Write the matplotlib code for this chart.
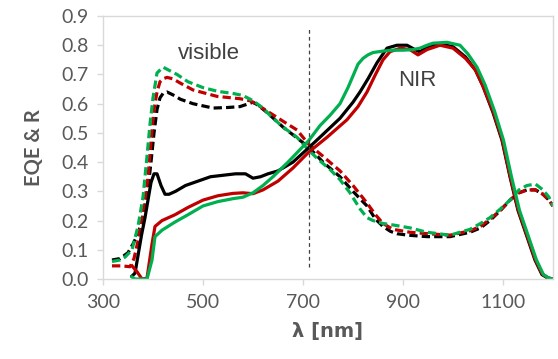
import numpy as np
import matplotlib
matplotlib.use('Agg')
import matplotlib.pyplot as plt

### data ###
# EQE (solid)
wl_eqe_k = [358, 364, 370, 377, 384, 390, 396, 402, 408, 416, 424, 432, 445, 465, 490, 515, 540, 565, 585, 600, 615, 630, 650, 680, 712, 740, 774, 800, 814, 830, 848, 868, 888, 908, 924, 934, 948, 974, 1000, 1025, 1045, 1060, 1080, 1098, 1114, 1130, 1148, 1164, 1178, 1190, 1200]
eqe_k = [0.01, 0.02, 0.08, 0.15, 0.21, 0.27, 0.33, 0.36, 0.36, 0.32, 0.29, 0.29, 0.30, 0.32, 0.335, 0.35, 0.355, 0.36, 0.36, 0.345, 0.35, 0.36, 0.37, 0.40, 0.45, 0.495, 0.55, 0.605, 0.64, 0.685, 0.74, 0.79, 0.80, 0.80, 0.785, 0.777, 0.795, 0.805, 0.795, 0.76, 0.715, 0.66, 0.57, 0.475, 0.35, 0.235, 0.145, 0.065, 0.015, 0.003, 0.0]

wl_eqe_r = [358, 368, 378, 388, 398, 404, 418, 444, 470, 500, 530, 560, 580, 600, 620, 650, 680, 712, 748, 788, 810, 828, 845, 860, 874, 895, 914, 930, 948, 974, 1000, 1025, 1045, 1060, 1080, 1098, 1114, 1130, 1148, 1164, 1178, 1190, 1200]
eqe_r = [0.045, 0.025, 0.0, 0.003, 0.12, 0.18, 0.2, 0.22, 0.245, 0.27, 0.285, 0.293, 0.295, 0.292, 0.305, 0.335, 0.38, 0.435, 0.485, 0.545, 0.59, 0.64, 0.70, 0.75, 0.778, 0.79, 0.785, 0.767, 0.785, 0.80, 0.79, 0.755, 0.715, 0.66, 0.575, 0.48, 0.355, 0.24, 0.15, 0.07, 0.018, 0.004, 0.0]

wl_eqe_g = [358, 364, 376, 388, 398, 404, 418, 444, 470, 500, 530, 560, 580, 600, 620, 640, 670, 712, 734, 754, 774, 790, 800, 810, 820, 830, 840, 860, 880, 900, 920, 934, 948, 960, 988, 1014, 1030, 1048, 1064, 1083, 1101, 1117, 1133, 1151, 1167, 1181, 1192, 1200]
eqe_g = [0.007, 0.0, 0.0, 0.0, 0.065, 0.145, 0.167, 0.195, 0.22, 0.25, 0.265, 0.275, 0.28, 0.295, 0.32, 0.35, 0.40, 0.475, 0.525, 0.56, 0.60, 0.655, 0.695, 0.735, 0.755, 0.767, 0.775, 0.78, 0.783, 0.783, 0.785, 0.79, 0.80, 0.807, 0.81, 0.80, 0.77, 0.725, 0.665, 0.575, 0.475, 0.35, 0.235, 0.145, 0.065, 0.015, 0.003, 0.0]

# reflectance (dashed)
wl_r_k = [318, 334, 350, 360, 370, 378, 384, 390, 396, 402, 408, 414, 420, 428, 440, 455, 480, 520, 550, 574, 600, 610, 628, 660, 690, 712, 740, 774, 800, 828, 845, 860, 875, 888, 910, 948, 994, 1034, 1055, 1074, 1095, 1114, 1132, 1148, 1165, 1180, 1192, 1200]
r_k = [0.065, 0.07, 0.09, 0.12, 0.155, 0.2, 0.25, 0.31, 0.40, 0.50, 0.58, 0.62, 0.635, 0.64, 0.63, 0.615, 0.60, 0.585, 0.587, 0.59, 0.605, 0.595, 0.57, 0.52, 0.48, 0.45, 0.40, 0.35, 0.30, 0.25, 0.205, 0.18, 0.163, 0.155, 0.15, 0.145, 0.145, 0.16, 0.175, 0.2, 0.235, 0.27, 0.295, 0.305, 0.305, 0.29, 0.27, 0.25]

wl_r_r = [318, 338, 354, 362, 370, 378, 384, 390, 396, 402, 408, 414, 420, 428, 440, 455, 480, 528, 574, 594, 610, 628, 660, 688, 712, 740, 774, 800, 828, 845, 860, 880, 914, 950, 994, 1034, 1055, 1074, 1095, 1114, 1132, 1148, 1165, 1180, 1192, 1200]
r_r = [0.045, 0.045, 0.042, 0.07, 0.13, 0.2, 0.27, 0.35, 0.47, 0.58, 0.64, 0.675, 0.685, 0.69, 0.685, 0.67, 0.647, 0.625, 0.617, 0.61, 0.595, 0.575, 0.54, 0.51, 0.46, 0.42, 0.37, 0.32, 0.26, 0.22, 0.19, 0.17, 0.16, 0.155, 0.15, 0.165, 0.18, 0.205, 0.235, 0.27, 0.295, 0.305, 0.305, 0.29, 0.27, 0.25]

wl_r_g = [318, 334, 344, 358, 370, 380, 388, 394, 400, 408, 420, 448, 470, 500, 530, 560, 580, 600, 620, 634, 660, 688, 712, 730, 754, 774, 794, 814, 828, 840, 860, 880, 914, 948, 994, 1034, 1055, 1074, 1095, 1114, 1132, 1148, 1165, 1180, 1192, 1200]
r_g = [0.06, 0.065, 0.075, 0.1, 0.18, 0.28, 0.42, 0.53, 0.62, 0.705, 0.725, 0.70, 0.675, 0.655, 0.642, 0.635, 0.628, 0.61, 0.585, 0.56, 0.52, 0.485, 0.44, 0.41, 0.375, 0.34, 0.295, 0.24, 0.21, 0.2, 0.19, 0.185, 0.175, 0.16, 0.15, 0.17, 0.19, 0.21, 0.24, 0.27, 0.305, 0.32, 0.325, 0.305, 0.28, 0.25]

x_ticks = [300, 500, 700, 900, 1100]
y_ticks = [0.0, 0.1, 0.2, 0.3, 0.4, 0.5, 0.6, 0.7, 0.8, 0.9]
split_wl = 712
#====================

### style ###
c_black = '#000000'
c_red = '#C00000'
c_green = '#00B050'
c_grid = '#D9D9D9'
c_text = '#595959'
lw = 2.3
dash = (2.6, 1.3)
#====================

fig = plt.figure(figsize=(5.58, 3.59), dpi=100)
ax = fig.add_axes([0.1846, 0.2228, 0.8064, 0.7326])

# reflectance
ax.plot(wl_r_k, r_k, color=c_black, lw=lw, dashes=dash)
ax.plot(wl_r_r, r_r, color=c_red, lw=lw, dashes=dash)
ax.plot(wl_r_g, r_g, color=c_green, lw=lw, dashes=dash)
# EQE
ax.plot(wl_eqe_k, eqe_k, color=c_black, lw=lw)
ax.plot(wl_eqe_r, eqe_r, color=c_red, lw=lw)
ax.plot(wl_eqe_g, eqe_g, color=c_green, lw=lw)

# visible / NIR split
ax.plot([split_wl, split_wl], [0.04, 0.86], color='#404040', lw=0.9, dashes=(3, 2.5))

ax.text(512, 0.773, 'visible', ha='center', va='center', fontsize=16,
        color='#404040', family='Liberation Sans')
ax.text(928, 0.68, 'NIR', ha='center', va='center', fontsize=16,
        color='#404040', family='Liberation Sans')

ax.set_xlim(300, 1200)
ax.set_ylim(0, 0.9)
ax.set_xticks(x_ticks)
ax.set_yticks(y_ticks)
ax.set_yticklabels(['%.1f' % v for v in y_ticks])
for s in ax.spines.values():
    s.set_color(c_grid)
    s.set_linewidth(1.0)
ax.tick_params(direction='out', length=4.5, width=1.0, color=c_grid,
               labelcolor=c_text, labelsize=14, pad=6)
for lab in ax.get_xticklabels() + ax.get_yticklabels():
    lab.set_family('Lato')

ax.set_xlabel('λ [nm]', fontsize=14, fontweight='bold', color=c_text,
              family='DejaVu Sans', labelpad=8)
ax.set_ylabel('EQE & R', fontsize=14.5, fontweight='bold', color=c_text,
              family='Lato', labelpad=12)

fig.savefig('out.png', dpi=100)
